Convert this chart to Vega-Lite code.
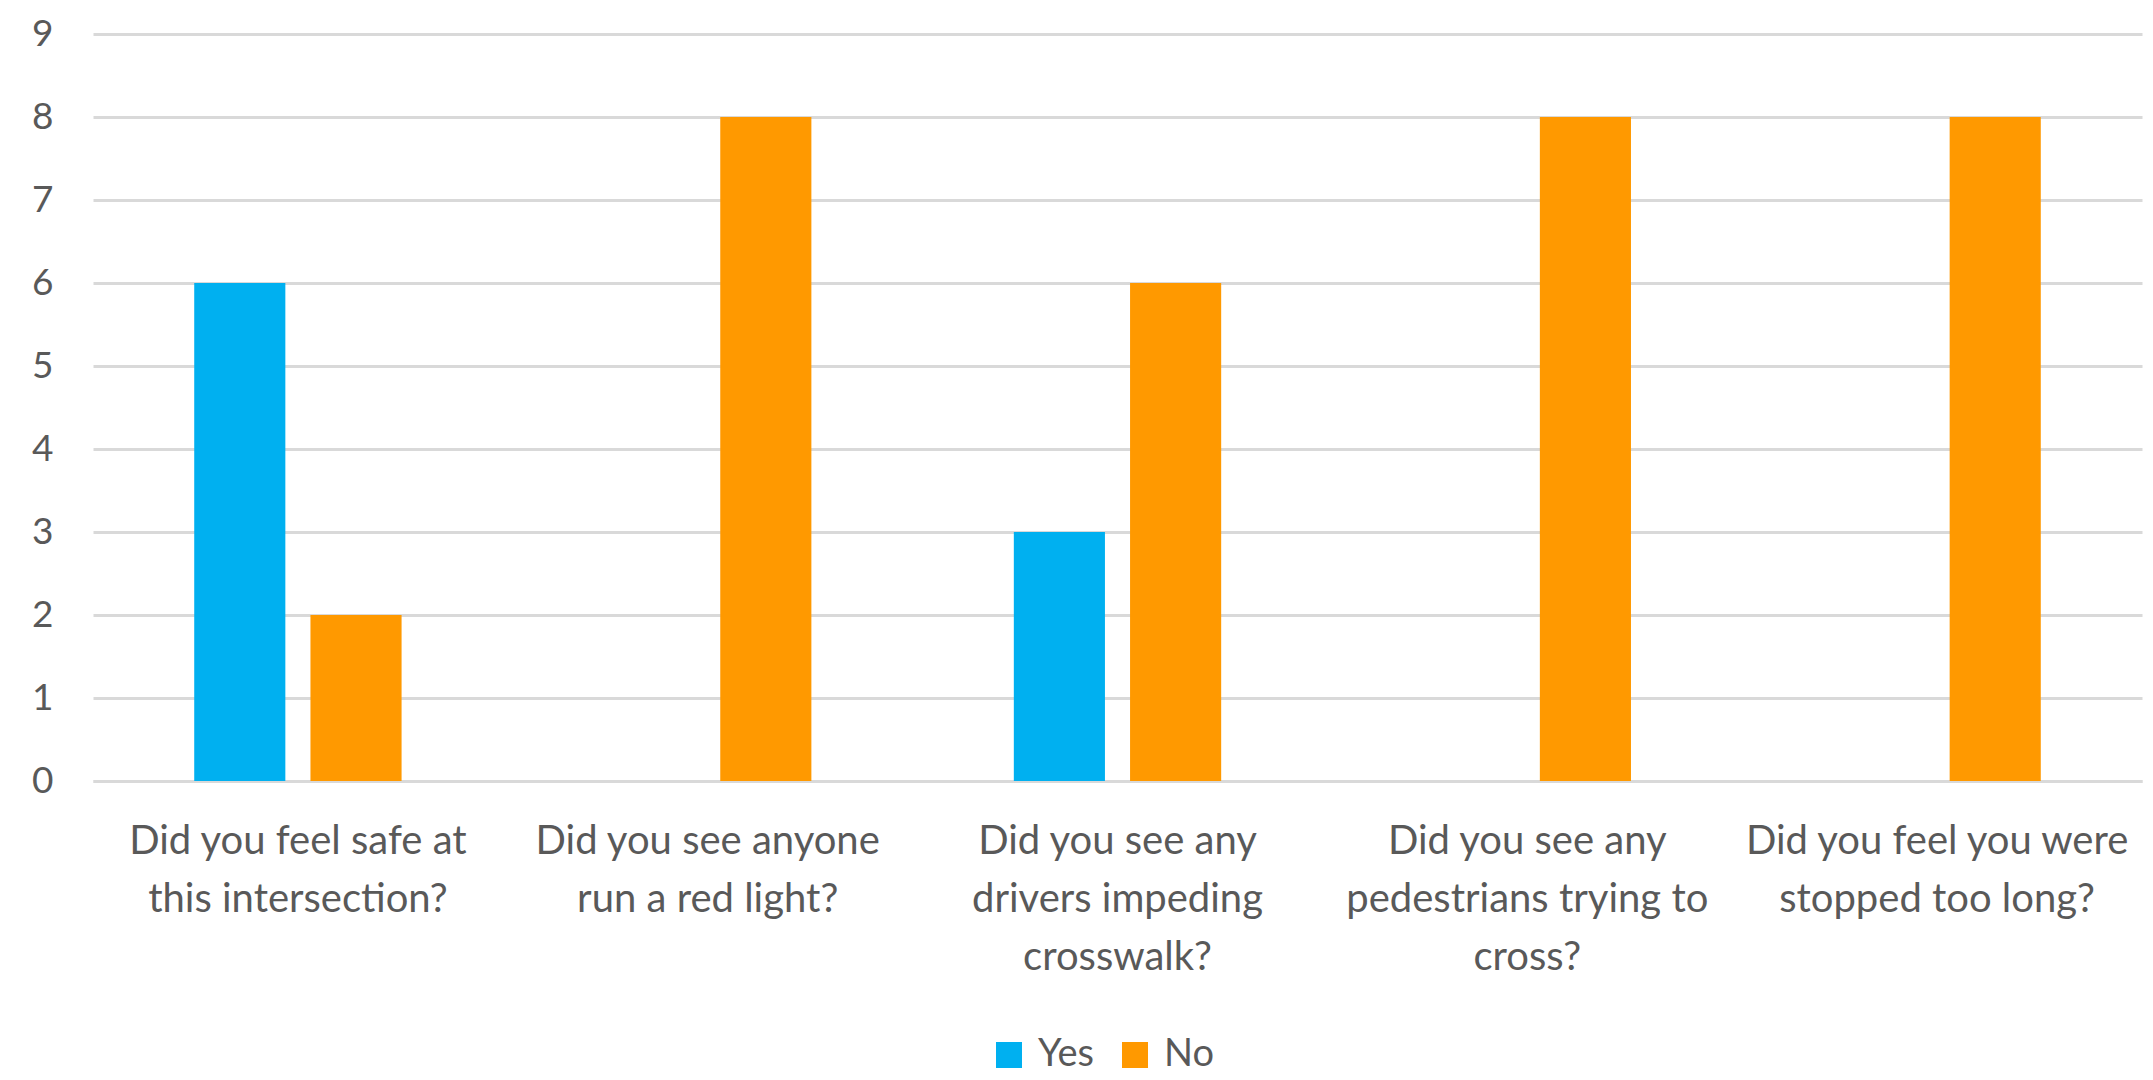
{
  "$schema": "https://vega.github.io/schema/vega-lite/v6.json",
  "autosize": {"type": "none"},
  "width": 2049,
  "height": 747,
  "padding": {"left": 93, "top": 34, "right": 11, "bottom": 299},
  "background": "white",
  "data": {
    "values": [
      {"question": "Did you feel safe at|this intersection?", "answer": "Yes", "count": 6},
      {"question": "Did you feel safe at|this intersection?", "answer": "No", "count": 2},
      {"question": "Did you see anyone|run a red light?", "answer": "Yes", "count": 0},
      {"question": "Did you see anyone|run a red light?", "answer": "No", "count": 8},
      {"question": "Did you see any|drivers impeding|crosswalk?", "answer": "Yes", "count": 3},
      {"question": "Did you see any|drivers impeding|crosswalk?", "answer": "No", "count": 6},
      {"question": "Did you see any|pedestrians trying to|cross?", "answer": "Yes", "count": 0},
      {"question": "Did you see any|pedestrians trying to|cross?", "answer": "No", "count": 8},
      {"question": "Did you feel you were|stopped too long?", "answer": "Yes", "count": 0},
      {"question": "Did you feel you were|stopped too long?", "answer": "No", "count": 8}
    ]
  },
  "mark": {"type": "bar"},
  "encoding": {
    "x": {
      "field": "question",
      "type": "nominal",
      "sort": null,
      "scale": {"paddingInner": 0.494, "paddingOuter": 0.247},
      "axis": {
        "title": null,
        "labelAngle": 0,
        "labelExpr": "split(datum.label, '|')",
        "labelFont": "Lato",
        "labelFontSize": 40,
        "labelColor": "#595959",
        "labelLineHeight": 58,
        "labelPadding": 40,
        "labelBaseline": "top",
        "labelLimit": 0,
        "ticks": false,
        "domain": true,
        "domainColor": "#d9d9d9",
        "domainWidth": 3,
        "grid": false
      }
    },
    "xOffset": {
      "field": "answer",
      "type": "nominal",
      "sort": ["Yes", "No"],
      "scale": {"paddingInner": 0.216, "paddingOuter": 0}
    },
    "y": {
      "field": "count",
      "type": "quantitative",
      "scale": {"domain": [0, 9], "nice": false},
      "axis": {
        "title": null,
        "values": [0, 1, 2, 3, 4, 5, 6, 7, 8, 9],
        "labelFont": "Lato",
        "labelFontSize": 37,
        "labelColor": "#595959",
        "labelPadding": 40,
        "ticks": false,
        "domain": false,
        "gridColor": "#d9d9d9",
        "gridWidth": 3
      }
    },
    "color": {
      "field": "answer",
      "type": "nominal",
      "sort": ["Yes", "No"],
      "scale": {"domain": ["Yes", "No"], "range": ["#00B0F0", "#FF9900"]},
      "legend": {
        "title": null,
        "orient": "none",
        "direction": "horizontal",
        "legendX": 897,
        "legendY": 1002,
        "padding": 0,
        "symbolType": "square",
        "symbolSize": 676,
        "symbolStrokeWidth": 0,
        "labelFont": "Lato",
        "labelFontSize": 38,
        "labelColor": "#595959",
        "labelOffset": 10,
        "columnPadding": 21
      }
    }
  },
  "config": {"view": {"stroke": null}}
}
